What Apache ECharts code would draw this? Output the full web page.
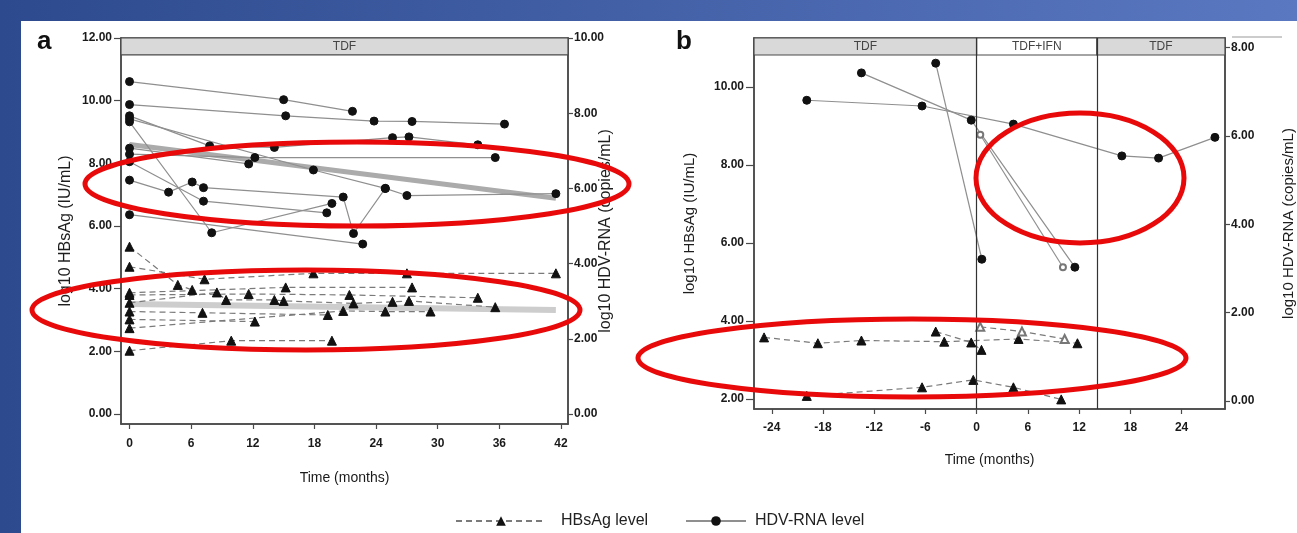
<!DOCTYPE html>
<html><head><meta charset="utf-8">
<script src="https://cdn.jsdelivr.net/npm/echarts@6/dist/echarts.min.js"></script>
<style>html,body{margin:0;padding:0;background:#fff}#c{width:1297px;height:533px}</style>
</head><body><div id="c"></div>
<script>
// ---------- axes / ticks ----------
const aTimeTicks = [0, 6, 12, 18, 24, 30, 36, 42];
const aHbsagTicks = [0, 2, 4, 6, 8, 10, 12];
const aHdvTicks = [0, 2, 4, 6, 8, 10];
const bTimeTicks = [-24, -18, -12, -6, 0, 6, 12, 18, 24];
const bHbsagTicks = [2, 4, 6, 8, 10];
const bHdvTicks = [0, 2, 4, 6, 8];

// ---------- panel a : HDV-RNA (log10 copies/mL) per patient [month, value] ----------
const aHdv1 = [[0, 8.84], [15.0, 8.36], [21.7, 8.05]];
const aHdv2 = [[0, 8.23], [15.2, 7.93], [23.8, 7.79], [27.5, 7.78], [36.5, 7.71]];
const aHdv3 = [[0, 7.93], [7.8, 7.13], [14.1, 7.09], [25.6, 7.35], [27.2, 7.37], [33.9, 7.16]];
const aHdv4 = [[0, 7.85], [17.9, 6.49], [24.9, 6.00], [27.0, 5.81], [41.5, 5.86]];
const aHdv5 = [[0, 7.77], [8.0, 4.82], [19.7, 5.60]];
const aHdv6 = [[0, 7.07], [11.6, 6.65]];
const aHdv7 = [[0, 6.91], [12.2, 6.82], [35.6, 6.82]];
const aHdv8 = [[0, 6.22], [3.8, 5.90], [6.1, 6.17], [7.2, 6.02], [20.8, 5.77], [21.8, 4.80], [24.9, 6.00]];
const aHdv9 = [[0, 6.71], [7.2, 5.66], [19.2, 5.35]];
const aHdv10 = [[0, 5.30], [22.7, 4.52]];
const aHdvTrend = [[0, 7.17], [41.5, 5.74]];

// ---------- panel a : HBsAg (log10 IU/mL) per patient [month, value] ----------
const aHbs1 = [[0, 5.34], [4.7, 4.12], [6.1, 3.96]];
const aHbs2 = [[0, 4.70], [7.3, 4.30], [17.9, 4.49], [27.0, 4.49], [41.5, 4.49]];
const aHbs3 = [[0, 3.87], [15.2, 4.04], [27.5, 4.04]];
const aHbs4 = [[0, 3.80], [11.6, 3.83], [21.4, 3.80], [33.9, 3.71]];
const aHbs5 = [[0, 3.55], [8.5, 3.88], [9.4, 3.64], [14.1, 3.64], [15.0, 3.61], [21.8, 3.53], [25.6, 3.58], [27.2, 3.61], [35.6, 3.41]];
const aHbs6 = [[0, 3.27], [7.1, 3.23], [19.3, 3.16]];
const aHbs7 = [[0, 3.02], [12.2, 2.95]];
const aHbs8 = [[0, 2.74], [20.8, 3.29], [24.9, 3.27], [29.3, 3.27]];
const aHbs9 = [[0, 2.02], [9.9, 2.34], [19.7, 2.34]];
const aHbsTrend = [[0, 3.51], [41.5, 3.32]];

// ---------- panel b ----------
const bPhaseNames = ['TDF', 'TDF+IFN', 'TDF'];
const bPhaseBounds = [-26.08, 0, 14.07, 29.08];
const bHdv1 = [[-19.9, 6.81], [-6.4, 6.68], [4.3, 6.27], [17.0, 5.55], [21.3, 5.50], [27.9, 5.97]];
const bHdv2 = [[-13.5, 7.43], [-0.64, 6.36], [11.5, 3.03]];
const bHdv3 = [[-4.8, 7.65], [0.6, 3.21]];
const bHdvOpen = [[0.42, 6.03], [10.1, 3.03]];
const bHbs1 = [[-24.9, 3.58], [-18.6, 3.43], [-13.5, 3.50], [-3.8, 3.47], [4.9, 3.54], [11.8, 3.43]];
const bHbs2 = [[-4.8, 3.73], [-0.64, 3.45], [0.56, 3.26]];
const bHbsOpen = [[0.42, 3.85], [5.3, 3.73], [10.3, 3.54]];
const bHbs3 = [[-19.9, 2.08], [-6.4, 2.30], [-0.4, 2.49], [4.3, 2.30], [9.9, 1.99]];

// ---------- styling ----------
const FONT = '"Liberation Sans", Arial, Helvetica, sans-serif';
const AX = '#4a4a4a';
const fmt2 = v => v.toFixed(2);
const labStyle = { color: '#1a1a1a', fontSize: 12, fontWeight: 'bold', fontFamily: FONT };

function hdvSeries(data, x, y, open) {
  return {
    type: 'line', name: 'HDV-RNA level', xAxisIndex: x, yAxisIndex: y, data: data,
    symbol: open ? 'emptyCircle' : 'circle', symbolSize: open ? 6 : 8,
    itemStyle: { color: open ? '#777' : '#111', borderColor: open ? '#777' : '#111' },
    lineStyle: { color: '#8f8f8f', width: 1.2 },
    animation: false, silent: true, z: 3
  };
}
function hbsSeries(data, x, y, open) {
  return {
    type: 'line', name: 'HBsAg level', xAxisIndex: x, yAxisIndex: y, data: data,
    symbol: open ? 'emptyTriangle' : 'triangle', symbolSize: open ? 8 : 9,
    itemStyle: { color: open ? '#777' : '#111', borderColor: open ? '#777' : '#111' },
    lineStyle: { color: '#7a7a7a', width: 1.2, type: [6, 4] },
    animation: false, silent: true, z: 3
  };
}
function yAx(grid, pos, min, max, ticks, name, gap, tickLen, margin, nameSize) {
  return {
    type: 'value', gridIndex: grid, position: pos, min: min, max: max,
    axisLine: { show: true, onZero: false, lineStyle: { color: AX, width: 1.5 } },
    axisTick: { show: true, customValues: ticks, length: tickLen, lineStyle: { color: AX, width: 1.2 } },
    axisLabel: { customValues: ticks, formatter: fmt2, margin: margin, ...labStyle },
    splitLine: { show: false },
    name: name, nameLocation: 'middle', nameRotate: 90, nameGap: gap, nameMoveOverlap: false,
    nameTextStyle: { color: '#1e1e1e', fontSize: nameSize, fontFamily: FONT }
  };
}
function xAx(grid, min, max, ticks, gap, margin) {
  return {
    type: 'value', gridIndex: grid, min: min, max: max,
    axisLine: { show: true, onZero: false, lineStyle: { color: AX, width: 1.5 } },
    axisTick: { show: true, customValues: ticks, length: 5, lineStyle: { color: AX, width: 1.2 } },
    axisLabel: { customValues: ticks, margin: margin, ...labStyle },
    splitLine: { show: false },
    name: 'Time (months)', nameLocation: 'middle', nameGap: gap, nameMoveOverlap: false,
    nameTextStyle: { color: '#1a1a1a', fontSize: 14, fontFamily: FONT }
  };
}

const series = [];
series.push({
  type: 'line', name: 'HBsAg trend', xAxisIndex: 0, yAxisIndex: 0, data: aHbsTrend,
  symbol: 'none', lineStyle: { color: '#cdcdcd', width: 6 }, animation: false, silent: true, z: 2,
  markArea: {
    silent: true, animation: false,
    itemStyle: { color: '#d9d9d9', borderColor: AX, borderWidth: 1.2 },
    label: { show: true, position: 'inside', color: '#444', fontSize: 12, fontFamily: FONT },
    data: [[{ name: 'TDF', xAxis: -0.83, yAxis: 11.46 }, { xAxis: 42.68, yAxis: 12 }]]
  }
});
series.push({
  type: 'line', name: 'HDV trend', xAxisIndex: 0, yAxisIndex: 1, data: aHdvTrend,
  symbol: 'none', lineStyle: { color: '#ababab', width: 5 }, animation: false, silent: true, z: 2
});
[aHdv1, aHdv2, aHdv3, aHdv4, aHdv5, aHdv6, aHdv7, aHdv8, aHdv9, aHdv10].forEach(d => series.push(hdvSeries(d, 0, 1)));
[aHbs1, aHbs2, aHbs3, aHbs4, aHbs5, aHbs6, aHbs7, aHbs8, aHbs9].forEach(d => series.push(hbsSeries(d, 0, 0)));

const bHeader = hbsSeries(bHbs1, 1, 2);
bHeader.markArea = {
  silent: true, animation: false,
  label: { show: true, position: 'inside', color: '#444', fontSize: 12, fontFamily: FONT },
  data: bPhaseNames.map((n, i) => [
    { name: n, xAxis: bPhaseBounds[i], yAxis: 10.82, itemStyle: { color: n === 'TDF' ? '#d9d9d9' : '#ffffff', borderColor: AX, borderWidth: 1.2 } },
    { xAxis: bPhaseBounds[i + 1], yAxis: 11.256 }
  ])
};
bHeader.markLine = {
  silent: true, animation: false, symbol: 'none', label: { show: false },
  lineStyle: { color: '#333', width: 1.2, type: 'solid' },
  data: bPhaseBounds.slice(1, 3).map(v => ({ xAxis: v }))
};
series.push(bHeader);
series.push(hbsSeries(bHbs2, 1, 2));
series.push(hbsSeries(bHbsOpen, 1, 2, true));
series.push(hbsSeries(bHbs3, 1, 2));
series.push(hdvSeries(bHdv1, 1, 3));
series.push(hdvSeries(bHdv2, 1, 3));
series.push(hdvSeries(bHdv3, 1, 3));
series.push(hdvSeries(bHdvOpen, 1, 3, true));

const option = {
  animation: false,
  backgroundColor: new echarts.graphic.LinearGradient(0, 0, 1, 0, [
    { offset: 0, color: '#2d4a8e' }, { offset: 1, color: '#5a78c1' }
  ]),
  grid: [
    { left: 121, top: 38, width: 447, height: 386, show: true, borderColor: AX, borderWidth: 1.5, backgroundColor: '#fff' },
    { left: 754, top: 38, width: 471, height: 371, show: true, borderColor: AX, borderWidth: 1.5, backgroundColor: '#fff' }
  ],
  xAxis: [
    xAx(0, -0.83, 42.68, aTimeTicks, 47, 14),
    xAx(1, -26.08, 29.08, bTimeTicks, 44, 13)
  ],
  yAxis: [
    yAx(0, 'left', -0.319, 12, aHbsagTicks, 'log10 HBsAg (IU/mL)', 47, 7, 9, 16),
    yAx(0, 'right', -0.266, 10, aHdvTicks, 'log10 HDV-RNA (copies/mL)', 30, 5, 6, 16),
    yAx(1, 'left', 1.744, 11.256, bHbsagTicks, 'log10 HBsAg (IU/mL)', 57, 8, 10, 15),
    yAx(1, 'right', -0.181, 8.22, bHdvTicks, 'log10 HDV-RNA (copies/mL)', 56, 5, 6, 15)
  ],
  legend: [
    { data: ['HBsAg level'], left: 450, top: 508, itemWidth: 90, itemHeight: 12, selectedMode: false,
      textStyle: { fontSize: 16, color: '#222', fontFamily: FONT, padding: [0, 0, 0, 10] } },
    { data: ['HDV-RNA level'], left: 680, top: 508, itemWidth: 60, itemHeight: 12, selectedMode: false,
      textStyle: { fontSize: 16, color: '#222', fontFamily: FONT, padding: [0, 0, 0, 4] } }
  ],
  graphic: [
    { type: 'rect', z: -10, silent: true, shape: { x: 21, y: 21, width: 1276, height: 512 }, style: { fill: '#ffffff' } },
    { type: 'text', z: 10, silent: true, left: 37, top: 29, style: { text: 'a', fill: '#111', font: 'bold 26px ' + FONT } },
    { type: 'text', z: 10, silent: true, left: 676, top: 29, style: { text: 'b', fill: '#111', font: 'bold 26px ' + FONT } },
    { type: 'line', z: 10, silent: true, shape: { x1: 1232, y1: 37, x2: 1282, y2: 37 }, style: { stroke: '#bbb', lineWidth: 1.5 } },
    { type: 'ellipse', z: 100, silent: true, shape: { cx: 357, cy: 184, rx: 272, ry: 42 }, style: { fill: 'none', stroke: '#e80a0a', lineWidth: 5 } },
    { type: 'ellipse', z: 100, silent: true, shape: { cx: 306, cy: 310, rx: 274, ry: 40 }, style: { fill: 'none', stroke: '#e80a0a', lineWidth: 5 } },
    { type: 'ellipse', z: 100, silent: true, shape: { cx: 1080, cy: 178, rx: 104, ry: 65 }, style: { fill: 'none', stroke: '#e80a0a', lineWidth: 5 } },
    { type: 'ellipse', z: 100, silent: true, shape: { cx: 912, cy: 358, rx: 274, ry: 39 }, style: { fill: 'none', stroke: '#e80a0a', lineWidth: 5 } }
  ],
  series: series
};
const chart = echarts.init(document.getElementById('c'), null, { renderer: 'canvas' });
chart.setOption(option);
</script></body></html>
